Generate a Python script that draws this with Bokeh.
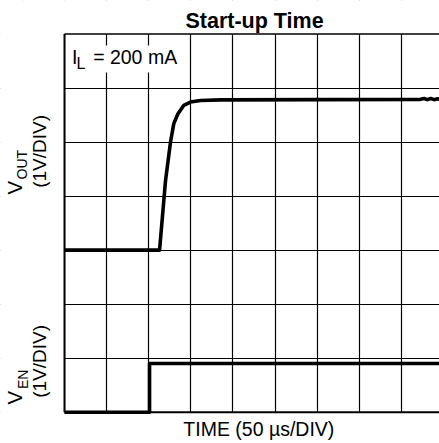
import math
from bokeh.plotting import figure
from bokeh.models import Range1d, Grid, SingleIntervalTicker, Label, BoxAnnotation
from bokeh.embed import file_html
from bokeh.resources import INLINE

# ---- data ----
time_vout_us = [0, 112.9, 120.0, 125.9, 129.8, 134.6, 141.7, 149.6, 161.5, 185.3,
                422.8, 427, 431, 435, 439, 443, 446]
vout_v = [0.0, 0.0, 1.29, 2.0, 2.34, 2.52, 2.68, 2.74, 2.77, 2.78,
          2.79, 2.805, 2.785, 2.805, 2.785, 2.80, 2.79]
time_ven_us = [0, 101, 101, 446]
ven_v = [0.0, 0.0, 0.9, 0.9]

title_text = "Start-up Time"
xlabel_text = "TIME (50 µs/DIV)"
load_text = "= 200 mA"

US_PER_DIV = 50
N_YDIV = 7
VOUT_ZERO_DIV = 3
VEN_ZERO_DIV = 0
FONT = "Liberation Sans"

# screen geometry of the scope area
PX_X_DIV = 42.1
PX_Y_DIV = 54.03
W, H = 439, 443
X0_PX, Y0_PX = 64, 411.7

vout_div = [v + VOUT_ZERO_DIV for v in vout_v]
ven_div = [v + VEN_ZERO_DIV for v in ven_v]

xr = Range1d(-X0_PX / PX_X_DIV * US_PER_DIV, (W - X0_PX) / PX_X_DIV * US_PER_DIV)
yr = Range1d(-(H - Y0_PX) / PX_Y_DIV, Y0_PX / PX_Y_DIV)

p = figure(width=W, height=H, output_backend="svg", toolbar_location=None,
           x_axis_type=None, y_axis_type=None, x_range=xr, y_range=yr,
           min_border=0)
p.outline_line_color = None
p.background_fill_color = "white"
p.border_fill_color = "white"

p.add_layout(Grid(dimension=0, ticker=SingleIntervalTicker(interval=US_PER_DIV, num_minor_ticks=0),
                  grid_line_color="black", grid_line_width=1.2))
p.add_layout(Grid(dimension=1, ticker=SingleIntervalTicker(interval=1, num_minor_ticks=0),
                  grid_line_color="black", grid_line_width=1.2))

# white masks outside the scope area (grid lines stop at the screen border)
for kw in (dict(left=-1000, right=0, bottom=-10, top=20),
           dict(left=-1000, right=1000, bottom=N_YDIV, top=20),
           dict(left=-1000, right=1000, bottom=-10, top=0)):
    p.add_layout(BoxAnnotation(fill_color="white", fill_alpha=1.0, line_color=None,
                               level="underlay", **kw))

# screen border (left, top, bottom)
p.segment(x0=[0, 0, 0], y0=[0, N_YDIV, 0], x1=[0, xr.end, xr.end], y1=[N_YDIV, N_YDIV, 0],
          line_color="black", line_width=[2, 1.6, 2])

p.line(time_vout_us, vout_div, line_color="black", line_width=3.6, line_join="round")
p.line(time_ven_us, ven_div, line_color="black", line_width=3.6, line_join="round")

# white box behind the load-current note
p.add_layout(BoxAnnotation(left=4.75, right=142.5, top=6.787, bottom=6.287,
                           fill_color="white", fill_alpha=1.0, line_color=None))

def lab(x, y, text, size, bold=False, align="left", angle=0.0):
    p.add_layout(Label(x=x, y=y, text=text, text_font=FONT, text_font_size=size,
                       text_font_style="bold" if bold else "normal",
                       text_color="black", text_align=align, text_baseline="alphabetic",
                       angle=angle))

lab(225.7, 7.235, title_text, "21.5px", bold=True, align="center")
lab(230.8, -0.302, xlabel_text, "19.5px", align="center")

lab(8.9, 6.569, "I", "19.5px")
lab(14.25, 6.463, "L", "16px")
lab(34.0, 6.569, load_text, "19.5px")

rot = math.pi / 2
lab(-59.15, 4.029, "V", "20.5px", angle=rot)
lab(-50.12, 4.307, "OUT", "14px", angle=rot)
lab(-29.69, 4.153, "(1V/DIV)", "19px", angle=rot)
lab(-59.15, 0.1425, "V", "20.5px", angle=rot)
lab(-49.29, 0.429, "EN", "14px", angle=rot)
lab(-29.69, 0.2665, "(1V/DIV)", "19px", angle=rot)

open("out.html", "w").write(file_html(p, INLINE))
